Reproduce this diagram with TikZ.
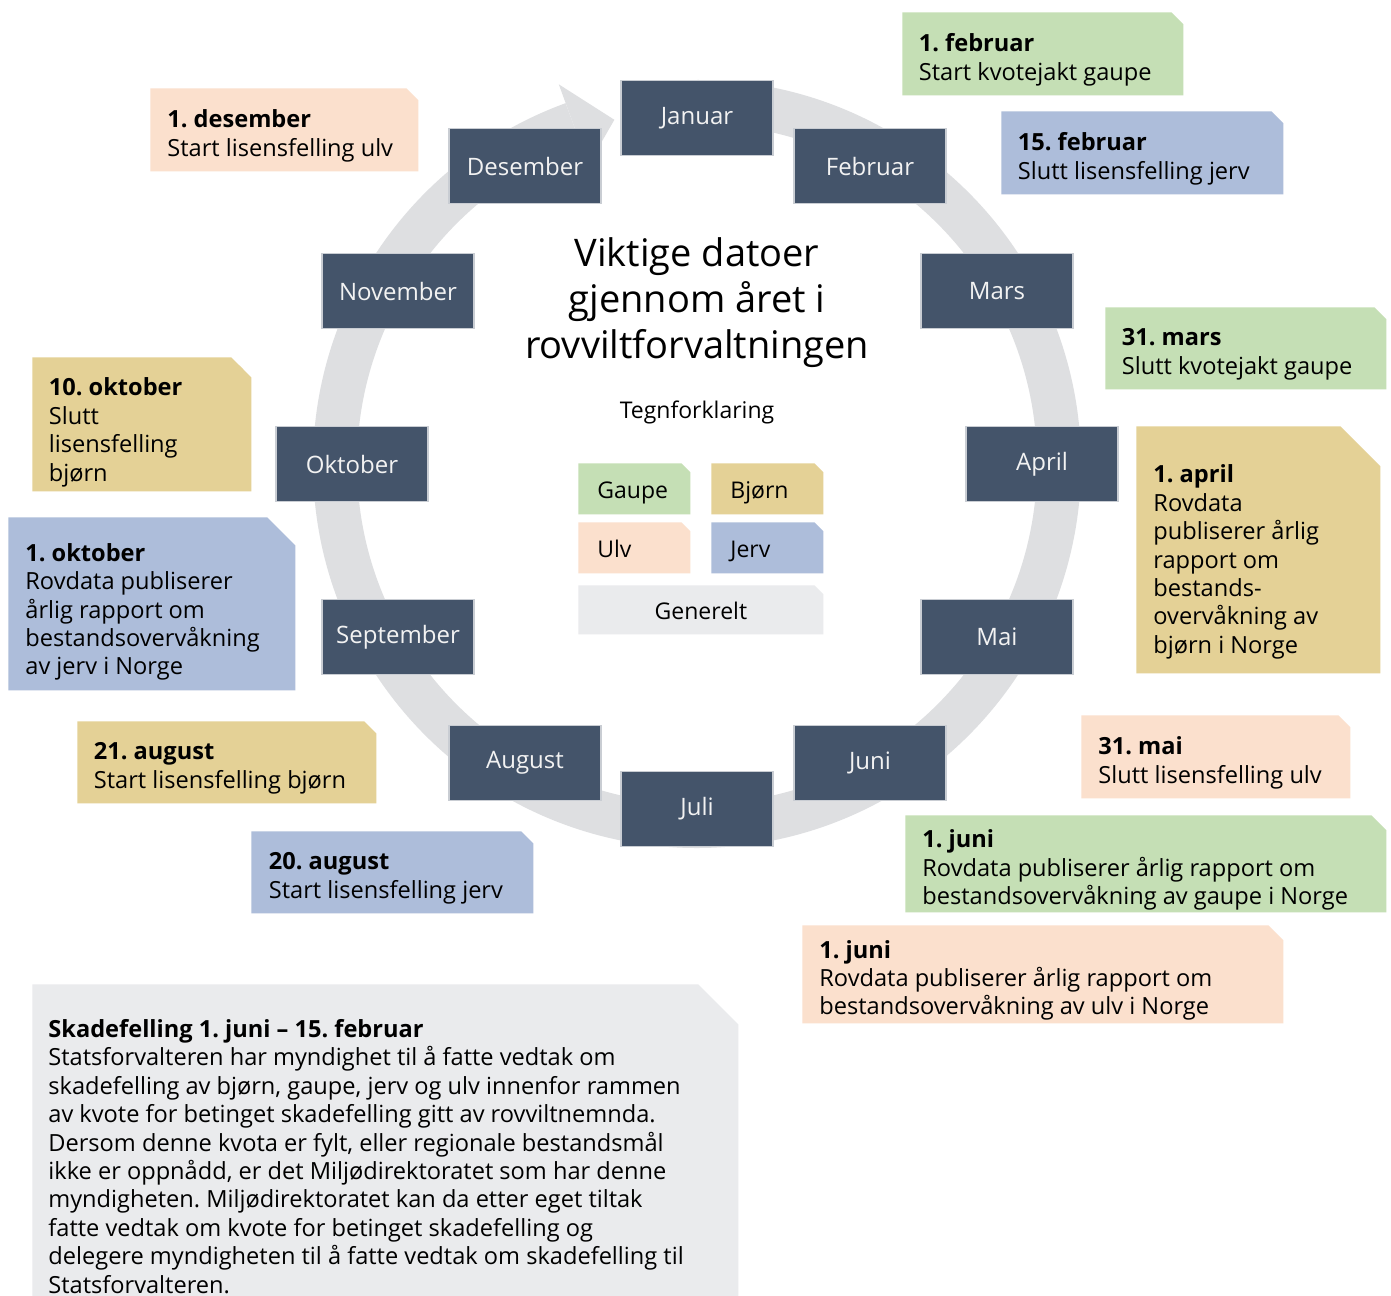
\documentclass[tikz,border=0pt]{standalone}
\usepackage{fontspec}
\setmainfont{Open Sans}
\usetikzlibrary{shapes.misc,positioning}
\definecolor{gaupe}{HTML}{C5DFB5}
\definecolor{bjorn}{HTML}{E4D196}
\definecolor{ulv}{HTML}{FBE0CD}
\definecolor{jerv}{HTML}{ADBDDA}
\definecolor{generelt}{HTML}{EAEBED}
\definecolor{monthblue}{HTML}{44546A}
\definecolor{monthedge}{HTML}{C9CDD3}
\definecolor{ringgray}{HTML}{DEDFE1}
\begin{document}
\frenchspacing
\begin{tikzpicture}[x=0.5pt,y=-0.5pt]
	\tikzstyle{month}=[rectangle,fill=monthblue,draw=monthedge,line width=0.6pt,minimum width=76pt,minimum height=37.5pt,text=white!95!black,font=\fontsize{12}{14}\selectfont]
	\tikzstyle{note}=[chamfered rectangle,chamfered rectangle corners=north east,chamfered rectangle sep=3pt,inner sep=0pt,text depth=0pt,anchor=north west]
	\tikzstyle{notetext}=[inner sep=0pt,align=left,yshift=-3pt,font=\fontsize{11.8}{14.2}\selectfont]
	\tikzstyle{key}=[chamfered rectangle,chamfered rectangle corners=north east,chamfered rectangle sep=2.25pt,inner sep=0pt,anchor=north west,minimum width=56pt,minimum height=25.5pt,text width=37pt,text height=11pt,text depth=1.5pt,align=left,font=\fontsize{11.5}{14}\selectfont]
	\tikzstyle{ring}=[draw=ringgray,line width=22pt]
	\path[fill=white,use as bounding box] (0,0) rectangle (1391,1295);
	% ring with arrow
	\coordinate (c) at (697,464);
	\path[ring] ([shift={(c)}]92:181pt) arc[start angle=92,end angle=-250,radius=181pt];
	\fill[ringgray] ([shift={(c)}]110:159pt) -- ([shift={(c)}]110:202pt) -- ([shift={(c)}]103.5:177pt) -- cycle;
	% months
	\node [month] (jan) at (697,118) {Januar};
	\node [month] (feb) at (870,166) {Februar};
	\node [month] (mar) at (997,291) {Mars};
	\node [month] (apr) at (1042,464) {April};
	\node [month] (mai) at (997,637) {Mai};
	\node [month] (jun) at (870,763) {Juni};
	\node [month] (jul) at (697,809) {Juli};
	\node [month] (aug) at (525,763) {August};
	\node [month] (sep) at (398,637) {September};
	\node [month] (okt) at (352,464) {Oktober};
	\node [month] (nov) at (398,291) {November};
	\node [month] (des) at (525,166) {Desember};
	% dates
	\node [note,fill=gaupe,text width=134.5pt,text height=35.5pt] (feb1) at (902,12) {};
	\node [notetext,right=8.25pt of feb1.west] (feb1t) {\textbf{1. februar}\\Start kvotejakt gaupe};
	\node [note,fill=jerv,text width=135pt,text height=35.5pt] (feb15) at (1001,111) {};
	\node [notetext,right=8.25pt of feb15.west] (feb15t) {\textbf{15. februar}\\Slutt lisensfelling jerv};
	\node [note,fill=gaupe,text width=134.5pt,text height=35pt] (mar31) at (1105,307) {};
	\node [notetext,right=8.25pt of mar31.west] (mar31t) {\textbf{31. mars}\\Slutt kvotejakt gaupe};
	\node [note,fill=bjorn,chamfered rectangle sep=10pt,text width=102pt,text height=103.5pt] (apr1) at (1136,426) {};
	\node [notetext,right=8.5pt of apr1.west,yshift=-3pt] (apr1t) {\textbf{1. april}\\Rovdata\\publiserer årlig\\rapport om\\bestands-\\overvåkning av\\bjørn i Norge};
	\node [note,fill=ulv,text width=128.5pt,text height=35.5pt] (mai31) at (1081,715) {};
	\node [notetext,right=8.5pt of mai31.west] (mai31t) {\textbf{31. mai}\\Slutt lisensfelling ulv};
	\node [note,fill=gaupe,chamfered rectangle sep=3.75pt,text width=233pt,text height=41pt] (jun1g) at (905,815) {};
	\node [notetext,right=8.5pt of jun1g.west] (jun1gt) {\textbf{1. juni}\\Rovdata publiserer årlig rapport om\\bestandsovervåkning av gaupe i Norge};
	\node [note,fill=ulv,chamfered rectangle sep=3.75pt,text width=233pt,text height=41.5pt] (jun1u) at (802,925) {};
	\node [notetext,right=8.5pt of jun1u.west] (jun1ut) {\textbf{1. juni}\\Rovdata publiserer årlig rapport om\\bestandsovervåkning av ulv i Norge};
	\node [note,fill=jerv,text width=135pt,text height=35pt] (aug20) at (251,831) {};
	\node [notetext,right=8.75pt of aug20.west] (aug20t) {\textbf{20. august}\\Start lisensfelling jerv};
	\node [note,fill=bjorn,text width=143.5pt,text height=35pt] (aug21) at (77,721) {};
	\node [notetext,right=8.25pt of aug21.west] (aug21t) {\textbf{21. august}\\Start lisensfelling bjørn};
	\node [note,fill=jerv,chamfered rectangle sep=7pt,text width=129.5pt,text height=72.5pt] (okt1) at (8,517) {};
	\node [notetext,right=8.5pt of okt1.west,yshift=-1pt] (okt1t) {\textbf{1. oktober}\\Rovdata publiserer\\årlig rapport om\\bestandsovervåkning\\av jerv i Norge};
	\node [note,fill=bjorn,chamfered rectangle sep=5pt,text width=99.5pt,text height=57pt] (okt10) at (32,357) {};
	\node [notetext,right=8.25pt of okt10.west,yshift=-1pt] (okt10t) {\textbf{10. oktober}\\Slutt\\lisensfelling\\bjørn};
	\node [note,fill=ulv,text width=128pt,text height=35.5pt] (des1) at (150,88) {};
	\node [notetext,right=8.5pt of des1.west] (des1t) {\textbf{1. desember}\\Start lisensfelling ulv};
	\node [note,fill=generelt,chamfered rectangle sep=10pt,text width=333pt,text height=167pt] (skade) at (32,984) {};
	\node [notetext,yshift=3pt,anchor=north west,below right=17.5pt and 8pt of skade.north west] (skadet) {\textbf{Skadefelling 1. juni – 15. februar}\\Statsforvalteren har myndighet til å fatte vedtak om\\skadefelling av bjørn, gaupe, jerv og ulv innenfor rammen\\av kvote for betinget skadefelling gitt av rovviltnemnda.\\Dersom denne kvota er fylt, eller regionale bestandsmål\\ikke er oppnådd, er det Miljødirektoratet som har denne\\myndigheten. Miljødirektoratet kan da etter eget tiltak\\fatte vedtak om kvote for betinget skadefelling og\\delegere myndigheten til å fatte vedtak om skadefelling til\\Statsforvalteren.};
	% title and legend
	\node [align=center,font=\fontsize{19}{23}\selectfont] (tittel) at (697,303) {Viktige datoer\\gjennom året i\\rovviltforvaltningen};
	\node [font=\fontsize{11.5}{14}\selectfont] (tegn) at (697,412) {Tegnforklaring};
	\node [key,fill=gaupe] (kgaupe) at (578,463) {Gaupe};
	\node [key,fill=bjorn] (kbjorn) at (711,463) {Bjørn};
	\node [key,fill=ulv] (kulv) at (578,522) {Ulv};
	\node [key,fill=jerv] (kjerv) at (711,522) {Jerv};
	\node [key,fill=generelt,minimum width=122.5pt,minimum height=24.5pt,text width=100pt,align=center] (kgen) at (578,585) {Generelt};
\end{tikzpicture}
\end{document}
